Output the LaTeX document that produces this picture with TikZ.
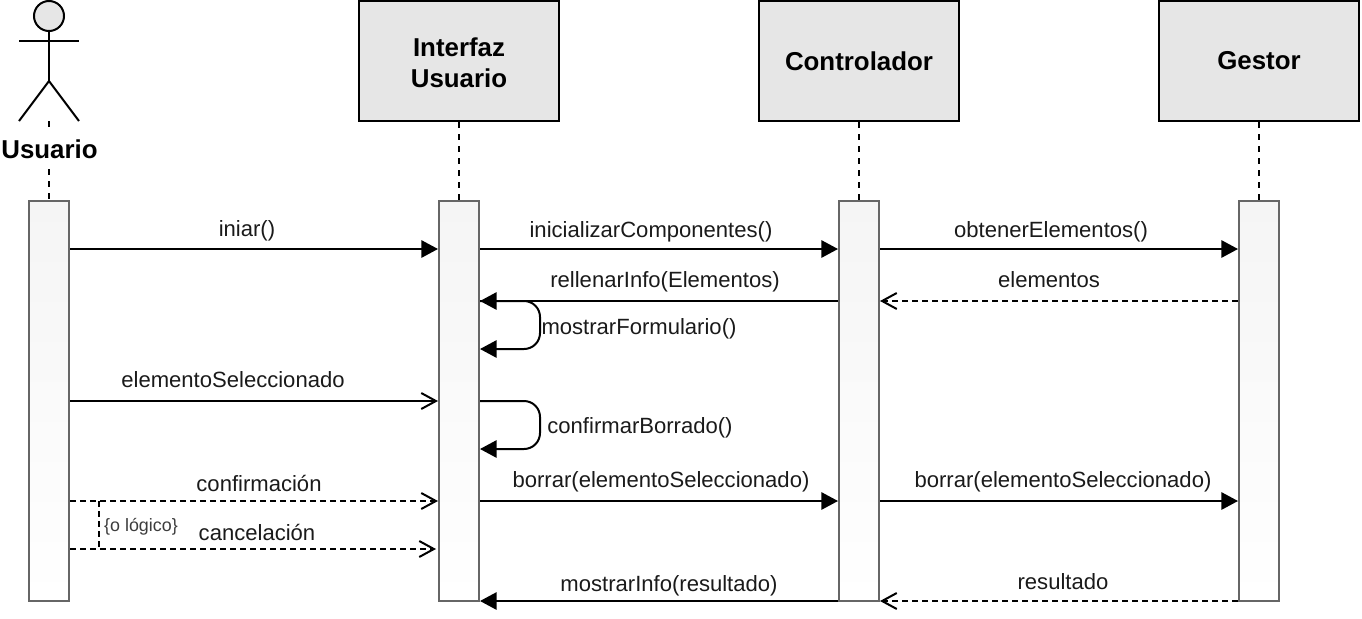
\documentclass[tikz,border=0pt]{standalone}
\usepackage{fontspec}
\setmainfont{Liberation Sans}
\usetikzlibrary{arrows.meta,calc}
\definecolor{hdfill}{HTML}{E6E6E6}
\definecolor{actfill}{HTML}{F5F5F5}
\definecolor{actline}{HTML}{666666}
\definecolor{txt}{HTML}{1A1A1A}
\tikzset{
  x=0.75pt,y=-0.75pt,
  hdbox/.style={draw=black,fill=hdfill,line width=1.5pt,minimum width=150pt,minimum height=90pt,inner sep=0pt,align=center,font=\fontsize{19.4}{23.25}\selectfont\bfseries,text=black},
  actbox/.style={draw=actline,top color=actfill,bottom color=white,line width=1.5pt,minimum width=30pt,minimum height=300pt,inner sep=0pt},
  lifeline/.style={line width=1.5pt,dash pattern=on 4.5pt off 4.5pt},
  msgfull/.style={line width=1.5pt,-{Triangle[length=12.5pt,width=13pt]}},
  msgopen/.style={line width=1.5pt,-{Straight Barb[length=11pt,width=12pt,line width=1.5pt]}},
  msgreply/.style={line width=1.5pt,dash pattern=on 4.5pt off 3pt,-{Straight Barb[length=11pt,width=12pt,line width=1.5pt]}},
  loopline/.style={line width=1.5pt,rounded corners=12pt,-{Triangle[length=12.5pt,width=13pt]}},
  lbl/.style={anchor=base,inner sep=0pt,text=txt,font=\fontsize{16.55}{20}\selectfont},
  smalllbl/.style={anchor=base,inner sep=0pt,text=txt!85,font=\fontsize{13.4}{18}\selectfont},
}
\begin{document}
\begin{tikzpicture}
\useasboundingbox (0,0) rectangle (1362,618);
% lifelines
\coordinate (lt1) at (49,121);
\node[hdbox] (b2) at (459,61) {\raisebox{-8.6pt}[0pt][0pt]{\begin{tabular}{@{}c@{}}Interfaz\\Usuario\end{tabular}}};
\node[hdbox] (b3) at (859,61) {Controlador};
\node[hdbox] (b4) at (1259,61) {Gestor};
\node[actbox] (a1) at (49,401) {};
\node[actbox] (a2) at (459,401) {};
\node[actbox] (a3) at (859,401) {};
\node[actbox] (a4) at (1259,401) {};
\draw[lifeline] (lt1) -- (a1.north);
\draw[lifeline] (b2.south) -- (a2.north);
\draw[lifeline] (b3.south) -- (a3.north);
\draw[lifeline] (b4.south) -- (a4.north);
% actor
\node[draw=black,fill=hdfill,line width=1.5pt,circle,minimum size=22.5pt,inner sep=0pt] (head) at (49,16) {};
\coordinate (armL) at (19,41);
\coordinate (armR) at (79,41);
\coordinate (hip) at (49,81);
\coordinate (footL) at (19,121);
\coordinate (footR) at (79,121);
\draw[line width=1.5pt] (armL) -- (armR);
\draw[line width=1.5pt] (head.south) -- (hip);
\draw[line width=1.5pt] (footL) -- (hip) -- (footR);
\node[fill=white,inner sep=0pt,minimum width=72pt,minimum height=24.75pt,font=\fontsize{19.4}{23}\selectfont\bfseries] (actorlabel) at (49.5,149) {Usuario};
% row coordinates
\coordinate (r1) at (0,249);
\coordinate (r2) at (0,301);
\coordinate (r3) at (0,349);
\coordinate (r4) at (0,401);
\coordinate (r5) at (0,449);
\coordinate (r6) at (0,501);
\coordinate (r7) at (0,549);
\coordinate (r8) at (0,601);
% messages
\draw[msgfull] (a1.east |- r1) -- (a2.west |- r1);
\draw[msgfull] (a2.east |- r1) -- (a3.west |- r1);
\draw[msgfull] (a3.east |- r1) -- (a4.west |- r1);
\draw[msgfull] (a3.west |- r2) -- (a2.east |- r2);
\draw[msgreply] (a4.west |- r2) -- (a3.east |- r2);
\draw[loopline] (a2.east |- r2) -- ++(60,0) |- (a2.east |- r3);
\draw[msgopen] (a1.east |- r4) -- (a2.west |- r4);
\draw[loopline] (a2.east |- r4) -- ++(60,0) |- (a2.east |- r5);
\draw[msgreply] (a1.east |- r6) -- (a2.west |- r6);
\draw[msgfull] (a2.east |- r6) -- (a3.west |- r6);
\draw[msgfull] (a3.east |- r6) -- (a4.west |- r6);
\draw[msgreply] (a1.east |- r7) -- ($(a2.west |- r7)+(-2,0)$);
\draw[msgfull] (a3.west |- r8) -- (a2.east |- r8);
\draw[msgreply] (a4.west |- r8) -- (a3.east |- r8);
\coordinate (or1) at (99,501);
\coordinate (or2) at (99,549);
\draw[line width=1.5pt,dash pattern=on 4.5pt off 3pt] (or1) -- (or2);
% labels
\node[lbl] (l1) at (247,236) {iniar()};
\node[lbl] (l2) at (651,237) {inicializarComponentes()};
\node[lbl] (l3) at (1051,237) {obtenerElementos()};
\node[lbl] (l4) at (665,287) {rellenarInfo(Elementos)};
\node[lbl] (l5) at (1049,287) {elementos};
\node[lbl] (l6) at (639,334) {mostrarFormulario()};
\node[lbl] (l7) at (233,387) {elementoSeleccionado};
\node[lbl] (l8) at (640,433) {confirmarBorrado()};
\node[lbl] (l9) at (259,491) {confirmación};
\node[lbl] (l10) at (661,487) {borrar(elementoSeleccionado)};
\node[lbl] (l11) at (1063,487) {borrar(elementoSeleccionado)};
\node[lbl] (l12) at (257,540) {cancelación};
\node[smalllbl] (l13) at (141,531) {\{o lógico\}};
\node[lbl] (l14) at (669,591) {mostrarInfo(resultado)};
\node[lbl] (l15) at (1063,589) {resultado};
\end{tikzpicture}
\end{document}
